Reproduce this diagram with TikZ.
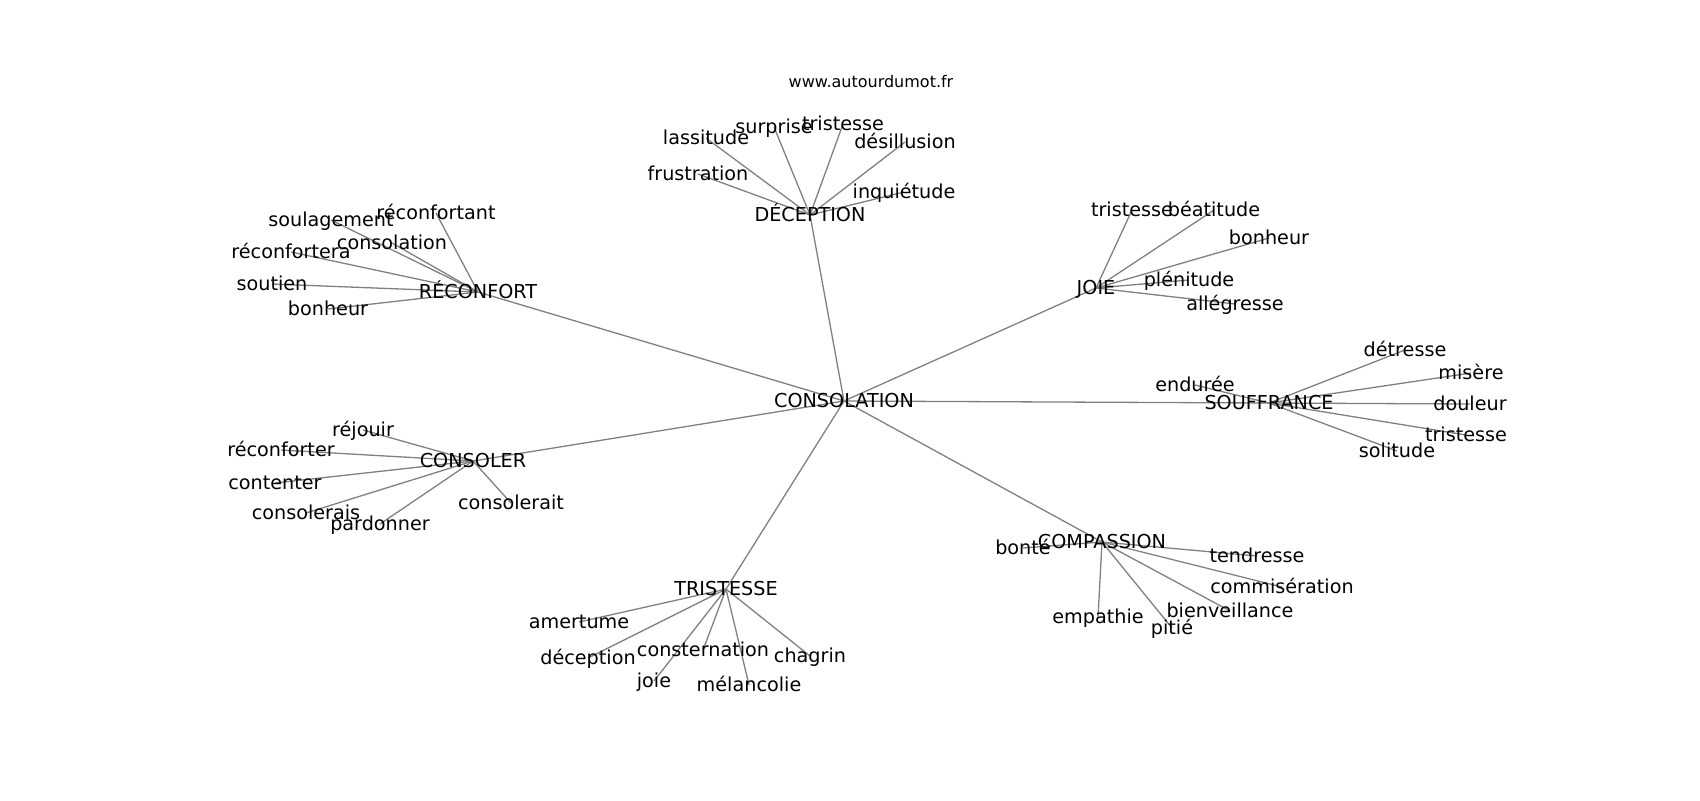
\documentclass[tikz,border=0pt]{standalone}
\usepackage{fontspec}
\setmainfont{DejaVu Sans}
\pgfdeclarelayer{bg}
\pgfsetlayers{bg,main}
\begin{document}
\begin{tikzpicture}[x=0.5pt,y=-0.5pt,
  lbl/.style={font=\fontsize{9.6}{11}\selectfont, inner sep=0pt, text height=6.5pt, text depth=0.5pt},
  edge/.style={draw=black!50, line width=0.65pt}]
\useasboundingbox (0,0) rectangle (1700,800);
\node[font=\fontsize{8}{10}\selectfont, inner sep=0pt] (www) at (871,82) {www.autourdumot.fr};
% centre
\node[lbl] (c) at (844,401) {CONSOLATION};
% DECEPTION
\node[lbl] (dec) at (810,215) {DÉCEPTION};
\node[lbl] (d1) at (706,138) {lassitude};
\node[lbl] (d2) at (774,127) {surprise};
\node[lbl] (d3) at (843,124) {tristesse};
\node[lbl] (d4) at (905,142) {désillusion};
\node[lbl] (d5) at (698,174) {frustration};
\node[lbl] (d6) at (904,192) {inquiétude};
% RECONFORT
\node[lbl] (rec) at (478,292) {RÉCONFORT};
\node[lbl] (r1) at (436,213) {réconfortant};
\node[lbl] (r2) at (331,220) {soulagement};
\node[lbl] (r3) at (392,243) {consolation};
\node[lbl] (r4) at (291,252) {réconfortera};
\node[lbl] (r5) at (272,284) {soutien};
\node[lbl] (r6) at (328,309) {bonheur};
% CONSOLER
\node[lbl] (csl) at (473,461) {CONSOLER};
\node[lbl] (s1) at (363,430) {réjouir};
\node[lbl] (s2) at (281,450) {réconforter};
\node[lbl] (s3) at (275,483) {contenter};
\node[lbl] (s4) at (306,513) {consolerais};
\node[lbl] (s5) at (380,524) {pardonner};
\node[lbl] (s6) at (511,503) {consolerait};
% TRISTESSE
\node[lbl] (tri) at (726,589) {TRISTESSE};
\node[lbl] (t1) at (579,622) {amertume};
\node[lbl] (t2) at (588,658) {déception};
\node[lbl] (t3) at (703,650) {consternation};
\node[lbl] (t4) at (810,656) {chagrin};
\node[lbl] (t5) at (654,681) {joie};
\node[lbl] (t6) at (749,685) {mélancolie};
% COMPASSION
\node[lbl] (cmp) at (1102,542) {COMPASSION};
\node[lbl] (p1) at (1023,548) {bonté};
\node[lbl] (p2) at (1257,556) {tendresse};
\node[lbl] (p3) at (1282,587) {commisération};
\node[lbl] (p4) at (1230,611) {bienveillance};
\node[lbl] (p5) at (1098,617) {empathie};
\node[lbl] (p6) at (1172,628) {pitié};
% SOUFFRANCE
\node[lbl] (sou) at (1269,403) {SOUFFRANCE};
\node[lbl] (u1) at (1195,385) {endurée};
\node[lbl] (u2) at (1405,350) {détresse};
\node[lbl] (u3) at (1471,373) {misère};
\node[lbl] (u4) at (1470,404) {douleur};
\node[lbl] (u5) at (1466,435) {tristesse};
\node[lbl] (u6) at (1397,451) {solitude};
% JOIE
\node[lbl] (joi) at (1096,288) {JOIE};
\node[lbl] (j1) at (1132,210) {tristesse};
\node[lbl] (j2) at (1214,210) {béatitude};
\node[lbl] (j3) at (1269,238) {bonheur};
\node[lbl] (j4) at (1189,280) {plénitude};
\node[lbl] (j5) at (1235,304) {allégresse};
\begin{pgfonlayer}{bg}
\foreach \h in {dec,rec,csl,tri,cmp,sou,joi} \draw[edge] (c.center) -- (\h.center);
\foreach \l in {d1,d2,d3,d4,d5,d6} \draw[edge] (dec.center) -- (\l.center);
\foreach \l in {r1,r2,r3,r4,r5,r6} \draw[edge] (rec.center) -- (\l.center);
\foreach \l in {s1,s2,s3,s4,s5,s6} \draw[edge] (csl.center) -- (\l.center);
\foreach \l in {t1,t2,t3,t4,t5,t6} \draw[edge] (tri.center) -- (\l.center);
\foreach \l in {p1,p2,p3,p4,p5,p6} \draw[edge] (cmp.center) -- (\l.center);
\foreach \l in {u1,u2,u3,u4,u5,u6} \draw[edge] (sou.center) -- (\l.center);
\foreach \l in {j1,j2,j3,j4,j5} \draw[edge] (joi.center) -- (\l.center);
\end{pgfonlayer}
\end{tikzpicture}
\end{document}
